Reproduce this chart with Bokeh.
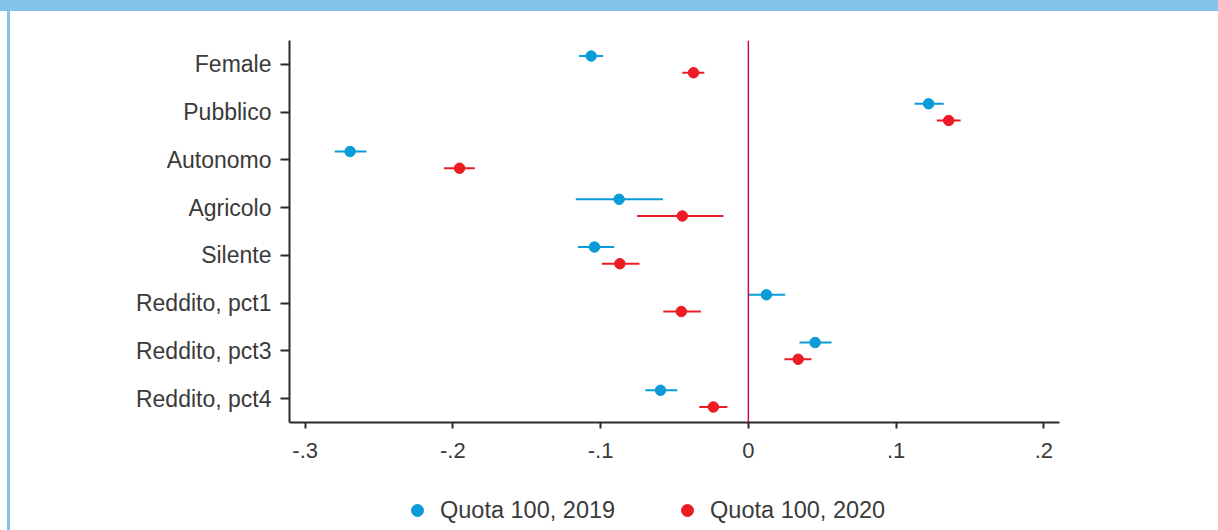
from bokeh.plotting import figure
from bokeh.layouts import column
from bokeh.models import (Range1d, FactorRange, Span, Legend, LegendItem,
                          FixedTicker, ColumnDataSource)
from bokeh.transform import dodge
from bokeh.embed import file_html
from bokeh.resources import INLINE

# ---------------- data ----------------
categories = ["Female", "Pubblico", "Autonomo", "Agricolo", "Silente",
              "Reddito, pct1", "Reddito, pct3", "Reddito, pct4"]

est_2019 = [-0.1064, 0.1220, -0.2696, -0.0875, -0.1042, 0.0122, 0.0452, -0.0595]
lo_2019 = [-0.1146, 0.1125, -0.2800, -0.1168, -0.1153, 0.0000, 0.0346, -0.0698]
hi_2019 = [-0.0983, 0.1322, -0.2585, -0.0578, -0.0908, 0.0249, 0.0563, -0.0481]

est_2020 = [-0.0371, 0.1356, -0.1955, -0.0447, -0.0870, -0.0454, 0.0337, -0.0237]
lo_2020 = [-0.0447, 0.1275, -0.2061, -0.0753, -0.0992, -0.0576, 0.0244, -0.0332]
hi_2020 = [-0.0298, 0.1437, -0.1851, -0.0169, -0.0737, -0.0321, 0.0427, -0.0142]

x_ticks = [-0.3, -0.2, -0.1, 0, 0.1, 0.2]
x_tick_labels = ["-.3", "-.2", "-.1", "0", ".1", ".2"]
series_labels = ["Quota 100, 2019", "Quota 100, 2020"]

# ---------------- style ----------------
BLUE = "#0a9bd8"
RED = "#ec1c24"
ZERO = "#c8143c"
AXIS = "#2a2a2a"
TEXT = "#3a3a3a"
FONT = "Liberation Sans"
FRAME_BLUE = "#85c4ea"

src19 = ColumnDataSource(dict(cat=categories, est=est_2019, lo=lo_2019, hi=hi_2019))
src20 = ColumnDataSource(dict(cat=categories, est=est_2020, lo=lo_2020, hi=hi_2020))

p = figure(width=1218, height=480, output_backend="svg", toolbar_location=None,
           x_range=Range1d(-0.3106, 0.2106),
           y_range=FactorRange(factors=categories[::-1], range_padding=0),
           min_border_left=289, min_border_right=159,
           min_border_top=40, min_border_bottom=58)
p.border_fill_color = None
p.background_fill_color = "#ffffff"
p.outline_line_color = None
p.xgrid.visible = False
p.ygrid.visible = False

# zero reference line
p.add_layout(Span(location=0, dimension="height", line_color=ZERO, line_width=1.5))

off = 0.175
y19 = dodge("cat", off, range=p.y_range)
y20 = dodge("cat", -off, range=p.y_range)

p.segment(x0="lo", x1="hi", y0=y19, y1=y19, source=src19, line_color=BLUE, line_width=2)
p.scatter(x="est", y=y19, source=src19, size=10.5, fill_color=BLUE, line_color=BLUE)
p.segment(x0="lo", x1="hi", y0=y20, y1=y20, source=src20, line_color=RED, line_width=2)
p.scatter(x="est", y=y20, source=src20, size=10.5, fill_color=RED, line_color=RED)

# axes
for ax in (p.xaxis, p.yaxis):
    ax.axis_line_color = AXIS
    ax.axis_line_width = 2
    ax.major_tick_line_color = AXIS
    ax.major_tick_line_width = 2
    ax.major_tick_in = 0
    ax.minor_tick_line_color = None
    ax.major_label_text_color = TEXT
    ax.major_label_text_font = FONT

p.xaxis.ticker = FixedTicker(ticks=x_ticks)
p.xaxis.major_label_overrides = {t: l for t, l in zip(x_ticks, x_tick_labels)}
p.xaxis.major_tick_out = 6
p.xaxis.major_label_standoff = 14
p.xaxis.major_label_text_font_size = "22px"

p.yaxis.major_tick_out = 9
p.yaxis.major_label_standoff = 9
p.yaxis.major_label_text_font_size = "23px"

# ---------------- legend strip ----------------
# (its key glyphs reuse the series' sources on ranges where nothing is visible)
p2 = figure(width=1218, height=50, output_backend="svg", toolbar_location=None,
            x_range=Range1d(1, 2), y_range=Range1d(1, 2),
            x_axis_location=None, y_axis_location=None,
            min_border_left=0, min_border_right=0, min_border_top=0, min_border_bottom=0)
p2.border_fill_color = None
p2.background_fill_color = None
p2.outline_line_color = None
p2.xgrid.visible = False
p2.ygrid.visible = False

k19 = p2.scatter(x="est", y="est", source=src19, size=10, fill_color=BLUE, line_color=BLUE)
k20 = p2.scatter(x="est", y="est", source=src20, size=10, fill_color=RED, line_color=RED)

legend = Legend(items=[LegendItem(label=series_labels[0], renderers=[k19]),
                       LegendItem(label=series_labels[1], renderers=[k20])],
                orientation="horizontal", location=(113, 5),
                glyph_width=30, glyph_height=30, label_standoff=8, spacing=57,
                padding=0, margin=0, border_line_alpha=0, background_fill_alpha=0,
                label_text_font=FONT, label_text_font_size="23.5px",
                label_text_color=TEXT)
p2.add_layout(legend)

layout = column(p, p2, spacing=0)
layout.styles = {
    "background": ("linear-gradient(%s,%s) 0 0/100%% 11px no-repeat, "
                   "linear-gradient(%s,%s) 7px 0/3px 100%% no-repeat, #ffffff")
                  % (FRAME_BLUE, FRAME_BLUE, FRAME_BLUE, FRAME_BLUE),
}

open("out.html", "w").write(file_html(layout, INLINE))
